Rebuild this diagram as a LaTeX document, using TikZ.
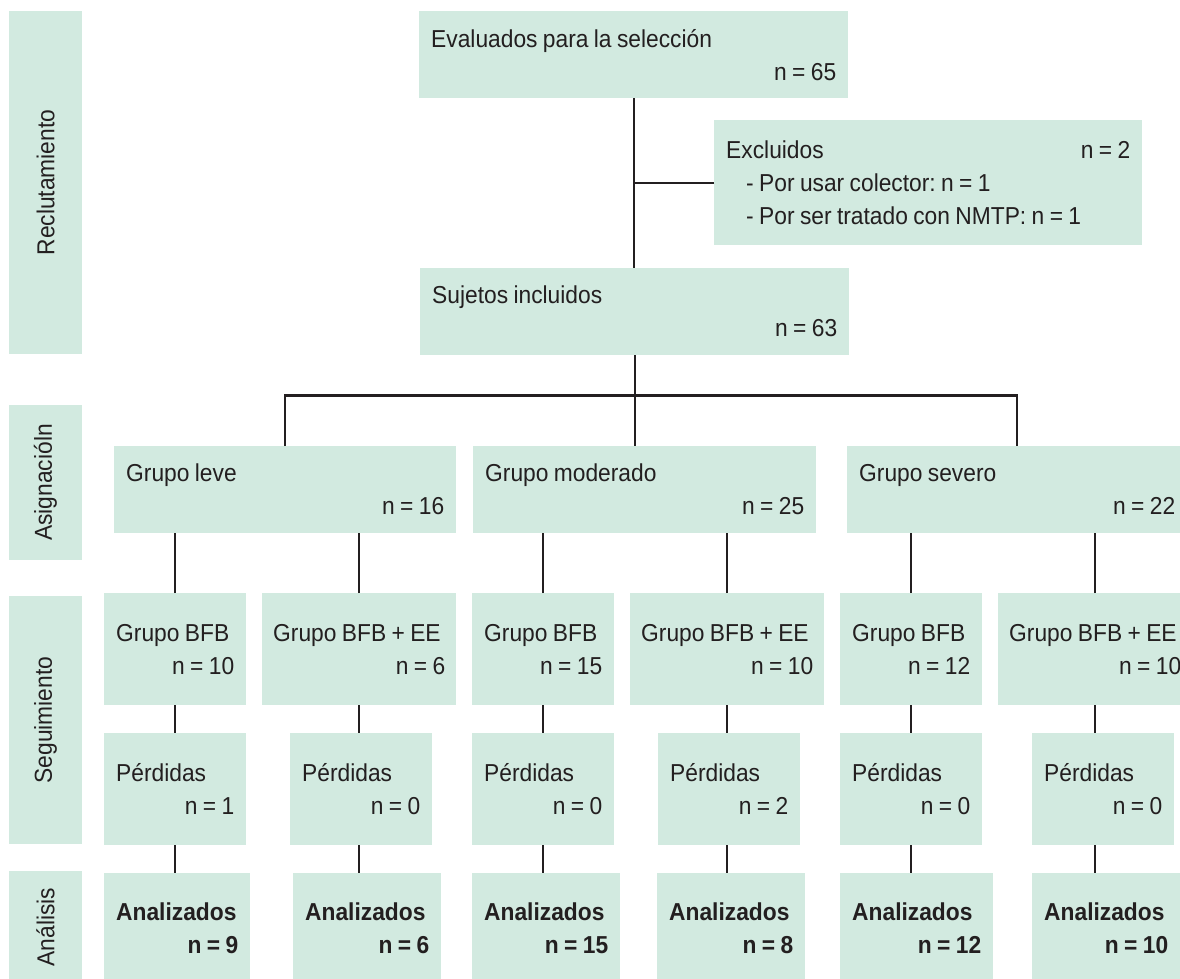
\documentclass[tikz,border=0pt]{standalone}
\usepackage{fontspec}
\setmainfont{Liberation Sans}[FakeStretch=0.93, WordSpace=0.85]
\usepackage{xcolor}
\definecolor{mint}{RGB}{210,234,224}
\definecolor{ink}{RGB}{35,31,32}
\newcommand{\ncount}[1]{\\\mbox{}\hfill n = #1}
\frenchspacing

\begin{document}
\begin{tikzpicture}[
  x=1pt, y=-1pt,
  every node/.style={font=\fontsize{24.5}{33}\selectfont, text=ink},
  box/.style={fill=mint, inner xsep=12pt, inner ysep=0pt, align=flush left, anchor=north west},
  toprow/.style={box, minimum height=87pt},
  grprow/.style={box, minimum height=112pt},
  widebox/.style={grprow, inner xsep=11pt, text width=172pt},
  endrow/.style={box, minimum height=110pt, font=\fontsize{24.5}{33}\selectfont\bfseries},
  stage/.style={fill=mint, rotate=90, minimum width=#1, minimum height=73pt, inner sep=0pt},
  link/.style={draw=ink, line width=2.2pt}
]
\clip (0,0) rectangle (1180,979);

% Stage bars on the left
\node[stage=343pt] (recl) at (45.5,182.5) {Reclutamiento};
\node[stage=155pt] (asig) at (45.5,482.5) {Asignacióln};
\node[stage=248pt] (segu) at (45.5,720)   {Seguimiento};
\node[stage=112pt] (anal) at (45.5,927)   {Análisis};

% Recruitment
\node[toprow, text width=405pt] (eval) at (419,11) {Evaluados para la selección\ncount{65}};
\node[box, minimum height=125pt, text width=404pt] (excl) at (714,120)
  {Excluidos\hfill n = 2\\\hspace*{20pt}- Por usar colector: n = 1\\\hspace*{20pt}- Por ser tratado con NMTP: n = 1};
\node[toprow, text width=405pt] (suje) at (420,268) {Sujetos incluidos\ncount{63}};

% Allocation
\node[toprow, text width=318pt] (leve) at (114,446) {Grupo leve\ncount{16}};
\node[toprow, text width=319pt] (mode) at (473,446) {Grupo moderado\ncount{25}};
\node[toprow, text width=316pt] (seve) at (847,446) {Grupo severo\ncount{22}};

% Follow-up: groups
\node[grprow, text width=118pt] (b1) at (104,593) {Grupo BFB\ncount{10}};
\node[widebox]                  (e1) at (262,593) {Grupo BFB + EE\ncount{6}};
\node[grprow, text width=118pt] (b2) at (472,593) {Grupo BFB\ncount{15}};
\node[widebox]                  (e2) at (630,593) {Grupo BFB + EE\ncount{10}};
\node[grprow, text width=118pt] (b3) at (840,593) {Grupo BFB\ncount{12}};
\node[widebox]                  (e3) at (998,593) {Grupo BFB + EE\ncount{10}};

% Follow-up: losses
\node[grprow, text width=118pt] (p1) at (104,733)  {Pérdidas\ncount{1}};
\node[grprow, text width=118pt] (p2) at (290,733)  {Pérdidas\ncount{0}};
\node[grprow, text width=118pt] (p3) at (472,733)  {Pérdidas\ncount{0}};
\node[grprow, text width=118pt] (p4) at (658,733)  {Pérdidas\ncount{2}};
\node[grprow, text width=118pt] (p5) at (840,733)  {Pérdidas\ncount{0}};
\node[grprow, text width=118pt] (p6) at (1032,733) {Pérdidas\ncount{0}};

% Analysis
\node[endrow, text width=122pt] (a1) at (104,873)  {Analizados\ncount{9}};
\node[endrow, text width=124pt] (a2) at (293,873)  {Analizados\ncount{6}};
\node[endrow, text width=124pt] (a3) at (472,873)  {Analizados\ncount{15}};
\node[endrow, text width=124pt] (a4) at (657,873)  {Analizados\ncount{8}};
\node[endrow, text width=129pt] (a5) at (840,873)  {Analizados\ncount{12}};
\node[endrow, text width=124pt] (a6) at (1032,873) {Analizados\ncount{10}};

% Connectors
\draw[link] (eval.south) -- (eval.south |- suje.north);
\draw[link] (excl.west) -- (excl.west -| eval.south);
\draw[link] (suje.south) -- ++(0,40) coordinate (fork);
\draw[link] (leve.north) |- (fork) -| (seve.north);
\draw[link] (fork) -- (fork |- mode.north);
\foreach \grp/\lost/\fin/\parent in {b1/p1/a1/leve, e1/p2/a2/leve, b2/p3/a3/mode,
                                    e2/p4/a4/mode, b3/p5/a5/seve, e3/p6/a6/seve} {
  \draw[link] (\grp.north) -- (\grp.north |- \parent.south);
  \draw[link] (\grp.south) -- (\grp.south |- \lost.north);
  \draw[link] (\grp.south |- \lost.south) -- (\grp.south |- \fin.north);
}
\end{tikzpicture}
\end{document}
